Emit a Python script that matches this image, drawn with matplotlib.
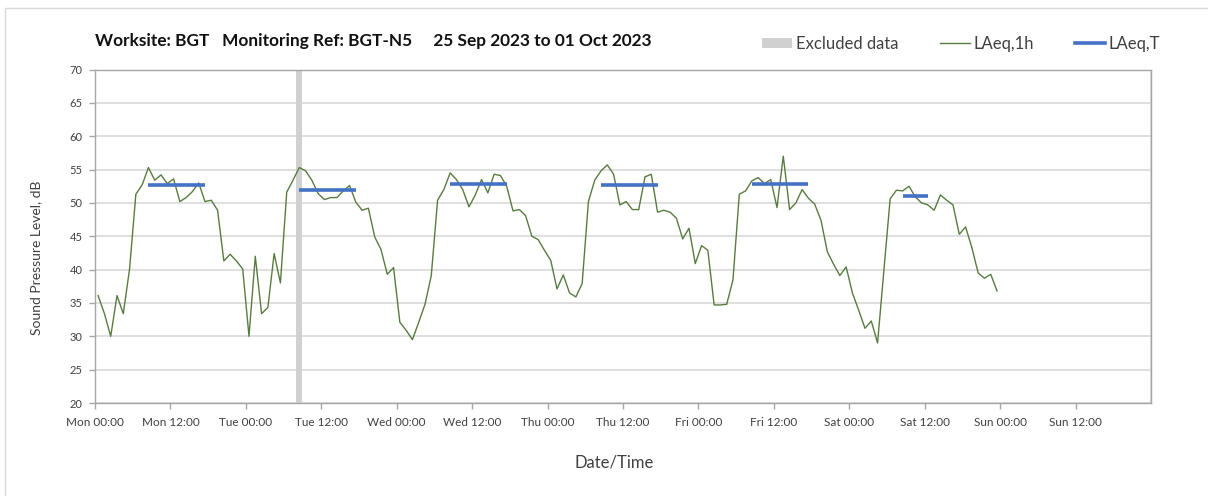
import numpy as np
import pandas as pd
import matplotlib
matplotlib.use("Agg")
import matplotlib.pyplot as plt
import matplotlib.dates as mdates
from matplotlib.lines import Line2D
from matplotlib.patches import Patch, Rectangle

plt.rcParams["font.family"] = ["Lato", "DejaVu Sans"]

GREEN, BLUE, BAND = "#587c40", "#4472c4", "#d0d0d0"
GRID, AXC, TXT = "#d9d9d9", "#a6a6a6", "#404040"

START = pd.Timestamp("2023-09-25 00:00")

# hourly LAeq,1h, one row per day (Mon .. Sat), hour 0..23
mon = [36.1, 33.4, 30.0, 36.1, 33.4, 40.1, 51.3, 52.7, 55.3, 53.4, 54.2, 52.9,
       53.6, 50.2, 50.8, 51.7, 53.0, 50.2, 50.4, 48.9, 41.3, 42.3, 41.3, 40.1]
tue = [30.0, 42.0, 33.4, 34.3, 42.4, 38.0, 51.6, 53.4, 55.3, 54.8, 53.4, 51.4,
       50.5, 50.8, 50.8, 51.8, 52.6, 50.1, 48.9, 49.2, 44.9, 43.0, 39.3, 40.3]
wed = [32.1, 30.9, 29.5, 32.1, 34.8, 39.1, 50.4, 52.0, 54.5, 53.5, 52.0, 49.4,
       51.2, 53.5, 51.5, 54.3, 54.1, 52.5, 48.8, 49.0, 48.1, 45.0, 44.5, 42.9]
thu = [41.4, 37.1, 39.2, 36.5, 35.9, 37.9, 50.2, 53.4, 54.8, 55.7, 54.3, 49.7,
       50.2, 49.0, 49.0, 53.9, 54.3, 48.6, 48.9, 48.6, 47.7, 44.6, 46.2, 40.9]
fri = [43.6, 42.9, 34.7, 34.7, 34.8, 38.5, 51.3, 51.8, 53.3, 53.8, 52.9, 53.5,
       49.3, 57.0, 49.0, 50.0, 52.0, 50.7, 49.8, 47.4, 42.7, 40.8, 39.1, 40.4]
sat = [36.5, 33.9, 31.2, 32.3, 29.0, 39.8, 50.6, 51.9, 51.8, 52.5, 50.9, 50.0,
       49.7, 48.9, 51.2, 50.4, 49.7, 45.3, 46.4, 43.3, 39.5, 38.7, 39.3, 36.8]
laeq_1h = mon + tue + wed + thu + fri + sat

# LAeq,T daytime periods (first hour, last hour, level)
t_first = [8, 32, 56, 80, 104, 128]
t_last = [17, 41, 65, 89, 113, 132]
t_level = [52.75, 52.0, 52.9, 52.75, 52.8, 51.0]

# excluded period (hours from start)
excl_from, excl_to = 32, 33


def at(h):
    # hourly values are plotted at mid-hour
    return START + pd.to_timedelta(np.asarray(h) + 0.5, unit="h")


W, H = 1208, 496
fig = plt.figure(figsize=(W / 100, H / 100), dpi=100)
fig.patches.append(Rectangle((5 / W, -0.5), 2, 1.5 - 8 / H, transform=fig.transFigure,
                             fill=False, edgecolor="#d9d9d9", lw=1.0))

ax = fig.add_axes([95 / W, (H - 403) / H, (1151 - 95) / W, (403 - 69.5) / H])

hours = np.arange(len(laeq_1h))
ax.axvspan(START + pd.Timedelta(hours=excl_from), START + pd.Timedelta(hours=excl_to),
           color=BAND, lw=0, zorder=1)
ax.plot(at(hours), laeq_1h, color=GREEN, lw=1.0, zorder=3)
for a, b, v in zip(t_first, t_last, t_level):
    hh = np.arange(a, b + 1)
    ax.plot(at(hh), [v] * len(hh), color=BLUE, lw=2.6, zorder=4,
            solid_capstyle="butt")

ax.set_xlim(START, START + pd.Timedelta(days=7))
ax.set_ylim(20, 70)
ax.set_yticks(np.arange(20, 71, 5))
ax.xaxis.set_major_locator(mdates.HourLocator(byhour=[0, 12]))
ax.xaxis.set_major_formatter(mdates.DateFormatter("%a %H:%M"))
ax.xaxis.set_minor_locator(mdates.DayLocator())
ax.set_xticks(ax.get_xticks()[:-1])

ax.grid(axis="y", color=GRID, lw=1.2, zorder=0)
ax.xaxis.grid(True, which="minor", color=GRID, lw=1.2, zorder=0)
ax.xaxis.grid(False, which="major")
ax.set_axisbelow(True)
ax.tick_params(axis="x", which="minor", length=0)
ax.tick_params(axis="both", which="major", colors=AXC, length=4, width=1,
               labelcolor=TXT, labelsize=8.5, pad=6)
ax.tick_params(axis="y", labelsize=8, pad=5)
for s in ax.spines.values():
    s.set_color(AXC)
    s.set_linewidth(1.0)

ax.set_ylabel("Sound Pressure Level, dB", fontsize=10, color=TXT)
ax.yaxis.set_label_coords((42 - 95) / 1056, (403 - 258) / 333.5)
fig.text(614 / W, 1 - 462 / H, "Date/Time", fontsize=12, color=TXT,
         ha="center", va="center")

fig.text(95 / W, 1 - 41 / H,
         "Worksite: BGT   Monitoring Ref: BGT-N5     25 Sep 2023 to 01 Oct 2023",
         fontsize=12.4, fontweight="bold", color="#111111", va="center")

handles = [Patch(facecolor=BAND, edgecolor="none"),
           Line2D([], [], color=GREEN, lw=1.0),
           Line2D([], [], color=BLUE, lw=2.6)]
fig.legend(handles, ["Excluded data", "LAeq,1h", "LAeq,T"], ncol=3,
           loc="center right", bbox_to_anchor=(1160 / W, 1 - 44 / H),
           frameon=False, fontsize=12, handlelength=1.8, handleheight=0.6,
           handletextpad=0.2, columnspacing=2.5, labelcolor=TXT,
           borderaxespad=0, borderpad=0)

fig.savefig("out.png", dpi=100)
